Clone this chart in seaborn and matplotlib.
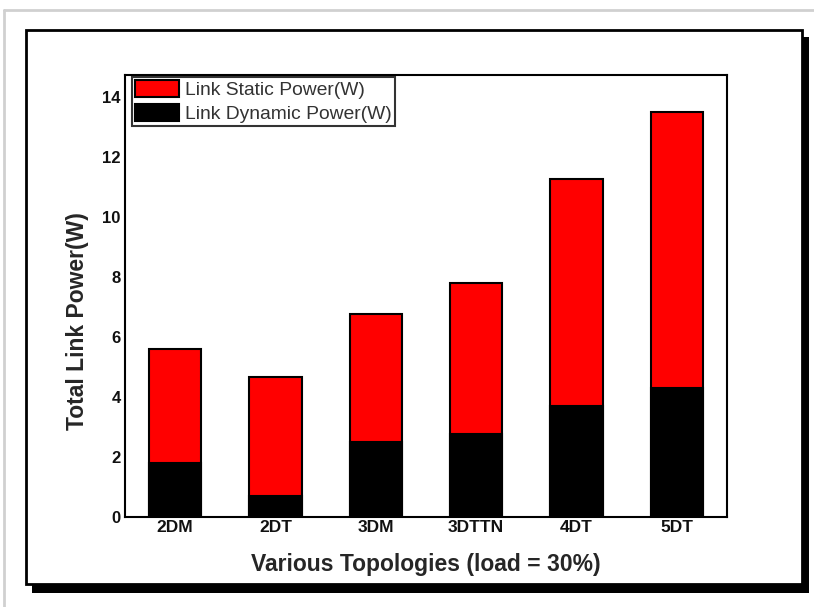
import matplotlib
matplotlib.use("Agg")
import matplotlib.pyplot as plt
import seaborn as sns
import pandas as pd
from matplotlib.patches import Rectangle, Patch
from matplotlib.lines import Line2D

topologies = ["2DM", "2DT", "3DM", "3DTTN", "4DT", "5DT"]
dynamic_power = [1.8, 0.7, 2.5, 2.75, 3.7, 4.3]
static_power = [3.8, 3.97, 4.27, 5.05, 7.56, 9.2]
y_ticks = [0, 2, 4, 6, 8, 10, 12, 14]

total_power = [d + s for d, s in zip(dynamic_power, static_power)]
df = pd.DataFrame({"Topology": topologies, "Dynamic": dynamic_power,
                   "Static": static_power, "Total": total_power})

sns.set_theme(style="white")
plt.rcParams["font.family"] = ["Liberation Sans", "DejaVu Sans"]

W, H = 814, 607
fig = plt.figure(figsize=(W / 100, H / 100), dpi=100)
fig.patch.set_facecolor("white")

def px_rect(x0, y0, x1, y1, **kw):
    r = Rectangle((x0 / W, 1 - y1 / H), (x1 - x0) / W, (y1 - y0) / H,
                  transform=fig.transFigure, **kw)
    fig.add_artist(r)

# outer gray border lines
fig.add_artist(Line2D([4 / W, 1], [1 - 10 / H, 1 - 10 / H], transform=fig.transFigure,
                      color="#d0d0d0", lw=2))
fig.add_artist(Line2D([4 / W, 4 / W], [0, 1 - 10 / H], transform=fig.transFigure,
                      color="#d0d0d0", lw=2))
# shadow and frame
px_rect(32, 37, 809, 593, facecolor="black", edgecolor="none", zorder=0)
px_rect(26, 30, 802, 584, facecolor="white", edgecolor="black", lw=2, zorder=0.5)

ax = fig.add_axes([125 / W, (H - 517) / H, 602 / W, 442 / H])
ax.set_zorder(2)
ax.set_facecolor("white")

sns.barplot(data=df, x="Topology", y="Total", color="#ff0000", width=0.52,
            edgecolor="black", linewidth=1.5, saturation=1, ax=ax, zorder=2)
sns.barplot(data=df, x="Topology", y="Dynamic", color="black", width=0.52,
            edgecolor="black", linewidth=1.5, saturation=1, ax=ax, zorder=3)

ax.set_xlim(-0.5, 5.5)
ax.set_ylim(0, 14.73)
ax.set_yticks(y_ticks)
ax.set_yticklabels([str(t) for t in y_ticks], fontsize=12, fontweight="bold")
ax.set_xticks(range(len(topologies)))
ax.set_xticklabels(topologies, fontsize=12.5, fontweight="bold")
ax.tick_params(axis="y", length=0, pad=3, colors="#111111")
ax.tick_params(axis="x", length=0, pad=2, colors="#111111")
ax.set_ylabel("Total Link Power(W)", fontsize=16.5, fontweight="bold")
ax.yaxis.set_label_coords(-0.06, 0.443)
ax.set_xlabel("Various Topologies (load = 30%)", fontsize=16.5, fontweight="bold", labelpad=13)
for s in ax.spines.values():
    s.set_color("black")
    s.set_linewidth(1.5)

handles = [Patch(facecolor="#ff0000", edgecolor="black", lw=1.5),
           Patch(facecolor="black", edgecolor="black", lw=1.5)]
leg = ax.legend(handles, ["Link Static Power(W)", "Link Dynamic Power(W)"],
                loc="upper left", bbox_to_anchor=(0.0116, 0.995), fontsize=13.9,
                frameon=True, fancybox=False, handlelength=2.3, handleheight=0.95,
                labelspacing=0.28, borderpad=0.15, handletextpad=0.3,
                borderaxespad=0.0, labelcolor="#333333")
leg.get_frame().set_edgecolor("black")
leg.get_frame().set_linewidth(1.5)

fig.savefig("out.png", dpi=100, facecolor="white")
